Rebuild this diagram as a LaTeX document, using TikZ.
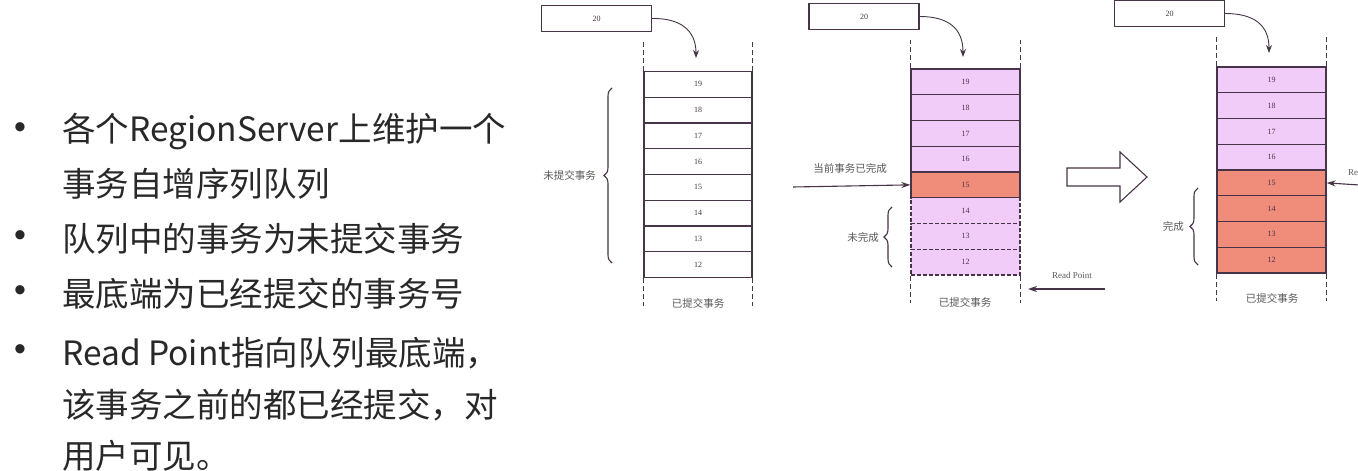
\documentclass[tikz,border=0pt]{standalone}
\usepackage{fontspec}
\setmainfont{Liberation Serif}
\newfontfamily\cjk{Noto Sans CJK SC}
\newfontfamily\bulfont{Liberation Sans}
\usetikzlibrary{arrows.meta,decorations.pathreplacing}
\definecolor{pinkc}{RGB}{242,204,248}
\definecolor{salmonc}{RGB}{240,140,122}
\definecolor{edgec}{RGB}{72,52,72}
\definecolor{txtc}{RGB}{40,40,40}
\definecolor{lblc}{RGB}{90,90,90}
\begin{document}
\begin{tikzpicture}[x=1pt,y=-1pt,
  cellbox/.style={draw=edgec,line width=1.3pt,minimum width=#1,minimum height=25.75pt,inner sep=0pt,font=\fontsize{8}{9}\selectfont,text=edgec},
  cellbox/.default=108pt,
  topbox/.style={draw=edgec,line width=1.2pt,minimum width=110pt,minimum height=26pt,inner sep=0pt,font=\fontsize{8}{9}\selectfont,text=edgec},
  guide/.style={draw=edgec,line width=1.2pt,dash pattern=on 5pt off 3pt},
  curvarrow/.style={draw=edgec,line width=0.9pt,-{Stealth[length=8pt,width=6pt]}},
  sidearrow/.style={draw=edgec,line width=1.1pt,-{Stealth[length=9pt,width=6pt]}},
  bracestyle/.style={draw=edgec,line width=1.1pt,decorate,decoration={brace,amplitude=8pt}},
  lbl/.style={font=\cjk\fontsize{10.5}{12}\selectfont,text=lblc,inner sep=0pt},
  rplbl/.style={font=\fontsize{9}{10}\selectfont,text=lblc,inner sep=0pt},
  bullettxt/.style={font=\cjk\fontsize{33.5}{38}\selectfont,text=txtc,anchor=west,inner sep=0pt},
  bulletdot/.style={font=\bulfont\fontsize{34}{38}\selectfont,text=txtc,inner sep=0pt}
]
\useasboundingbox (0,0) rectangle (1358,471);
\fill[white] (0,0) rectangle (1358,471);

% ---------- left text ----------
\node[bulletdot] (b1) at (20,131) {•};
\node[bullettxt] (t1) at (62,131) {各个RegionServer上维护一个};
\node[bullettxt] (t1b) at (62,184) {事务自增序列队列};
\node[bulletdot] (b2) at (20,239) {•};
\node[bullettxt] (t2) at (62,239) {队列中的事务为未提交事务};
\node[bulletdot] (b3) at (20,294) {•};
\node[bullettxt] (t3) at (62,294) {最底端为已经提交的事务号};
\node[bulletdot] (b4) at (20,353) {•};
\node[bullettxt] (t4) at (62,353) {Read Point指向队列最底端，};
\node[bullettxt] (t4b) at (62,405) {该事务之前的都已经提交，对};
\node[bullettxt] (t4c) at (62,456) {用户可见。};

% ---------- diagram 1 ----------
\node[topbox] (a20) at (596.5,18.5) {20};
\foreach \n [count=\i from 0] in {19,18,...,12}
  \node[cellbox] (a\n) at (698,{71.5+12.875+\i*25.75}) {\n};
\draw[guide] (a19.north west) -- ++(0,-30);
\draw[guide] (a19.north east) -- ++(0,-30);
\draw[guide] (a12.south west) -- ++(0,28);
\draw[guide] (a12.south east) -- ++(0,28);
\coordinate (atip) at (696,58);
\draw[curvarrow] (a20.east) .. controls (680,18) and (696,30) .. (atip);
\draw[bracestyle] (612,263) -- (612,88) node[midway] (abr) {};
\node[lbl,anchor=east] (albl) at (596,175) {未提交事务};
\node[lbl] (abot) at (698,303) {已提交事务};

% ---------- diagram 2 ----------
\node[topbox] (b20) at (864,16.5) {20};
\foreach \n [count=\i from 0] in {19,18,17,16}
  \node[cellbox=109pt,fill=pinkc] (c\n) at (965.5,{69+12.875+\i*25.75}) {\n};
\node[cellbox=109pt,fill=salmonc] (c15) at (965.5,{69+12.875+4*25.75}) {15};
\foreach \n [count=\i from 5] in {14,13,12}
  \node[cellbox=109pt,fill=pinkc,dash pattern=on 4pt off 2pt,line width=1.1pt] (c\n) at (965.5,{69+12.875+\i*25.75}) {\n};
\draw[guide] (c19.north west) -- ++(0,-28);
\draw[guide] (c19.north east) -- ++(0,-28);
\draw[guide] (c12.south west) -- ++(0,27);
\draw[guide] (c12.south east) -- ++(0,27);
\coordinate (btip) at (963,57);
\draw[curvarrow] (b20.east) .. controls (948,16.5) and (963,28) .. (btip);
\coordinate (cs) at (793,187);
\draw[sidearrow] (cs) -- (c15.west);
\node[lbl] (clbl) at (850,168) {当前事务已完成};
\draw[bracestyle] (892,267) -- (892,207) node[midway] (cbr) {};
\node[lbl,anchor=east] (clbl2) at (879,237) {未完成};
\coordinate (rps) at (1105,289);
\coordinate (rpe) at (1028,289);
\draw[sidearrow] (rps) -- (rpe);
\node[rplbl] (rpl) at (1072,275) {Read Point};
\node[lbl] (cbot) at (965,302) {已提交事务};

% ---------- big hollow arrow ----------
\draw[edgec,line width=1.1pt,fill=white] (1067,168) -- (1120,168) -- (1120,152) -- (1147,177)
  -- (1120,202) -- (1120,186) -- (1067,186) -- cycle;

% ---------- diagram 3 ----------
\node[topbox] (d20) at (1169.5,13.5) {20};
\foreach \n [count=\i from 0] in {19,18,17,16}
  \node[cellbox=109pt,fill=pinkc] (e\n) at (1271.5,{67+12.875+\i*25.75}) {\n};
\foreach \n [count=\i from 4] in {15,14,13,12}
  \node[cellbox=109pt,fill=salmonc] (e\n) at (1271.5,{67+12.875+\i*25.75}) {\n};
\draw[guide] (e19.north west) -- ++(0,-30);
\draw[guide] (e19.north east) -- ++(0,-30);
\draw[guide] (e12.south west) -- ++(0,27);
\draw[guide] (e12.south east) -- ++(0,27);
\coordinate (dtip) at (1269,53);
\draw[curvarrow] (d20.east) .. controls (1254,13.5) and (1269,25) .. (dtip);
\draw[bracestyle] (1198,265) -- (1198,188) node[midway] (ebr) {};
\node[lbl,anchor=east] (elbl) at (1184,226) {完成};
\node[lbl] (ebot) at (1272,298) {已提交事务};
\coordinate (rs3) at (1375,186);
\draw[sidearrow] (rs3) -- (e15.east);
\node[rplbl,anchor=west] (rp3) at (1348,172) {Read Point};
\end{tikzpicture}
\end{document}
